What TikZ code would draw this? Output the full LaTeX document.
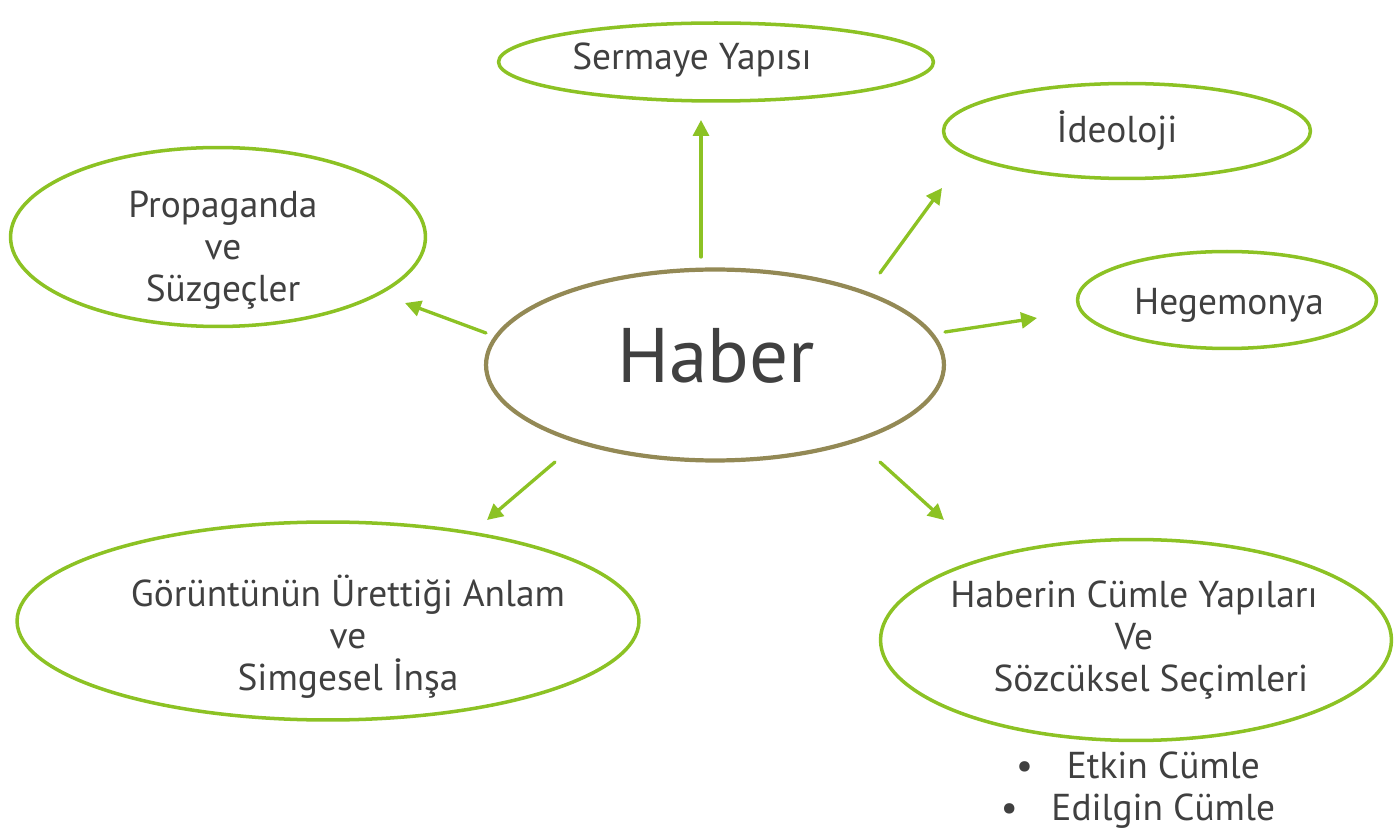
\documentclass[tikz,border=0pt]{standalone}
\usepackage{fontspec}
\setmainfont{PT Sans}
\usetikzlibrary{shapes.geometric,arrows.meta}
\definecolor{leafgreen}{RGB}{140,194,36}
\definecolor{olivebrown}{RGB}{147,137,85}
\definecolor{inkgray}{RGB}{64,64,64}
\begin{document}
\begin{tikzpicture}[x=0.02cm,y=-0.02cm,line join=round,line cap=round,>={Triangle[length=9pt,width=9pt]}]
            \tikzset{topic/.style={ellipse,draw=leafgreen,line width=2pt,inner sep=0pt},
                caption/.style={font=\fontsize{21.3}{24}\selectfont,text=inkgray,align=center,inner sep=0pt},
                link/.style={->,draw=leafgreen,fill=leafgreen,line width=1.9pt}}
            \useasboundingbox (0,0) rectangle (1394,834);
            \node[topic,minimum width=8.70cm,minimum height=1.56cm] (sermaye) at (716,62) {};
            \node[topic,minimum width=7.34cm,minimum height=1.90cm] (ideoloji) at (1127,131) {};
            \node[topic,minimum width=8.30cm,minimum height=3.58cm] (propaganda) at (218,237) {};
            \node[topic,minimum width=5.98cm,minimum height=1.94cm] (hegemonya) at (1227,300) {};
            \node[topic,draw=olivebrown,line width=2.4pt,minimum width=9.16cm,minimum height=3.82cm] (haber) at (715,365) {};
            \node[topic,minimum width=12.44cm,minimum height=3.96cm] (goruntu) at (328,621) {};
            \node[topic,minimum width=10.22cm,minimum height=4.02cm] (cumle) at (1136,640) {};
            \node[caption] (sermayetext) at (692,60) {Sermaye Yapısı};
            \node[caption] (ideolojitext) at (1117,131) {İdeoloji};
            \node[caption] (propagandatext) at (223,250) {Propaganda\\ve\\Süzgeçler};
            \node[caption] (hegemonyatext) at (1229,305) {Hegemonya};
            \node[caption,font=\fontsize{44}{50}\selectfont] (habertext) at (716,356) {Haber};
            \node[caption] (goruntutext) at (348,637) {Görüntünün Ürettiği Anlam\\ve\\Simgesel İnşa};
            \node[caption] (cumletext) at (1134,640) {Haberin Cümle Yapıları\\Ve\\\hspace*{0.9em}Sözcüksel Seçimleri};
            \node[caption] (turlertext) at (1138,790) {\textbullet\hspace{0.9em}Etkin Cümle\\\textbullet\hspace{0.9em}Edilgin Cümle};
            \coordinate (up0) at (701,257); \coordinate (up1) at (701,120);
            \coordinate (ne0) at (880,273); \coordinate (ne1) at (942,188);
            \coordinate (ea0) at (945,332); \coordinate (ea1) at (1037,318);
            \coordinate (wn0) at (486,333); \coordinate (wn1) at (405,303);
            \coordinate (sw0) at (555,462); \coordinate (sw1) at (487,520);
            \coordinate (se0) at (880,462); \coordinate (se1) at (944,520);
            \foreach \a in {up,ne,ea,wn,sw,se}
            \draw[link] (\a0)--(\a1);
        \end{tikzpicture}
\end{document}
